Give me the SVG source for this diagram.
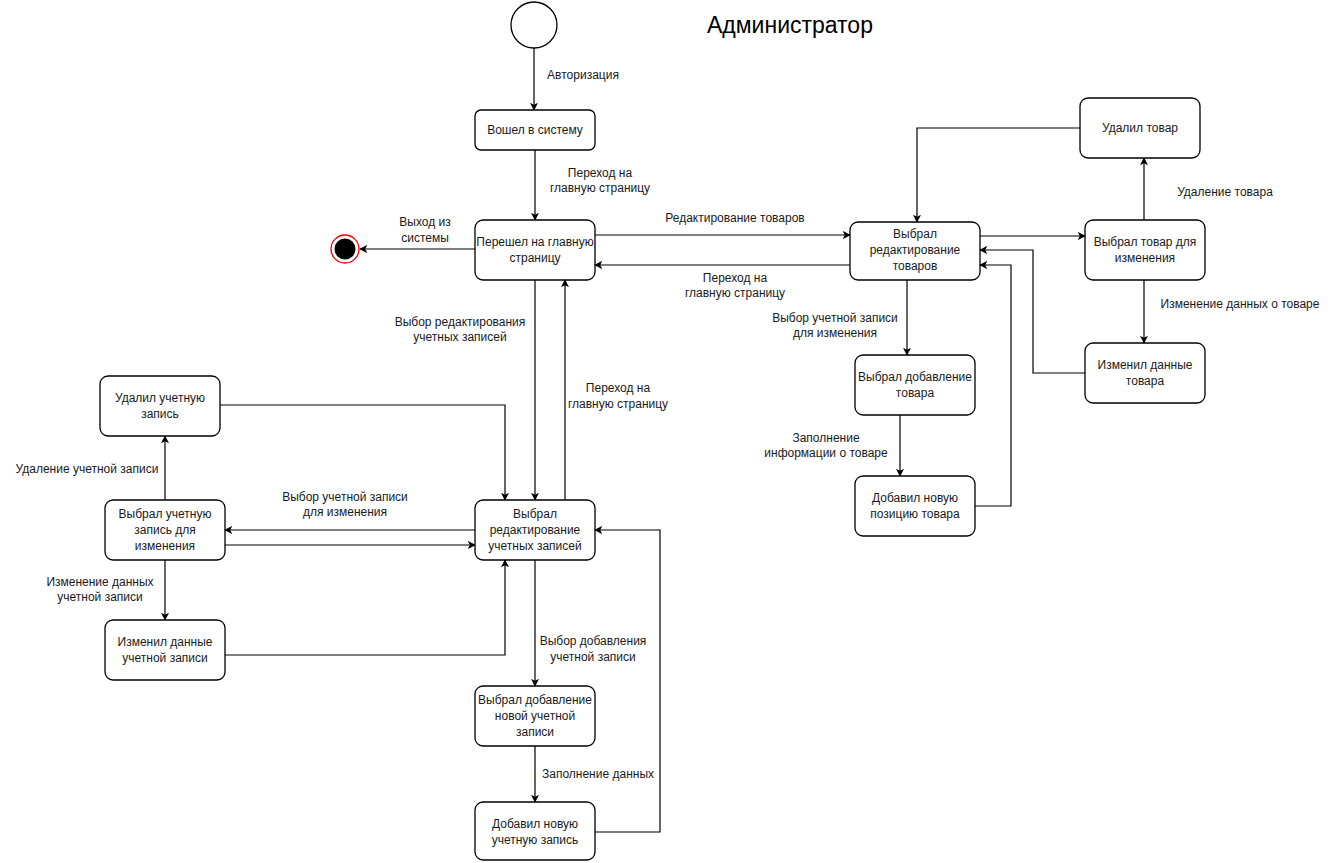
<svg xmlns="http://www.w3.org/2000/svg" width="1330" height="863" viewBox="0 0 1330 863">
<style>
.n{fill:#fff;stroke:#000;stroke-width:1.3}
.t{font-family:"Liberation Sans",Arial,sans-serif;font-size:12px;fill:#1a1a1a;text-anchor:middle}
.l{font-family:"Liberation Sans",Arial,sans-serif;font-size:12px;fill:#1a1a1a;text-anchor:middle}
.c{fill:none;stroke:#000;stroke-width:1.2;marker-end:url(#a)}
</style>
<defs>
<marker id="a" viewBox="0 0 10 10" refX="9" refY="5" markerWidth="8" markerHeight="8" markerUnits="userSpaceOnUse" orient="auto">
<path d="M0,0 L10,5 L0,10 L2.5,5 Z" fill="#000"/>
</marker>
</defs>
<rect width="1330" height="863" fill="#fff"/>
<text x="790" y="33" font-family="'Liberation Sans',Arial,sans-serif" font-size="23" text-anchor="middle" fill="#000">Администратор</text>

<g id="start"><circle cx="534" cy="25" r="23" class="n"/></g>
<g id="end"><circle cx="345" cy="249" r="14" fill="#fff" stroke="#e00" stroke-width="1.3"/><circle cx="345" cy="249" r="10.5" fill="#000"/></g>

<g id="n1"><rect x="475" y="110" width="120" height="40" rx="6" class="n"/><text class="t" x="535" y="134">Вошел в систему</text></g>
<g id="n2"><rect x="475" y="220" width="120" height="60" rx="8" class="n"/><text class="t" x="535" y="246">Перешел на главную</text><text class="t" x="535" y="262">страницу</text></g>
<g id="n3"><rect x="850" y="222" width="130" height="58" rx="8" class="n"/><text class="t" x="915" y="238">Выбрал</text><text class="t" x="915" y="254">редактирование</text><text class="t" x="915" y="270">товаров</text></g>
<g id="n4"><rect x="1080" y="98" width="120" height="60" rx="8" class="n"/><text class="t" x="1140" y="132">Удалил товар</text></g>
<g id="n5"><rect x="1085" y="220" width="120" height="60" rx="8" class="n"/><text class="t" x="1145" y="246">Выбрал товар для</text><text class="t" x="1145" y="262">изменения</text></g>
<g id="n6"><rect x="1085" y="343" width="120" height="60" rx="8" class="n"/><text class="t" x="1145" y="369">Изменил данные</text><text class="t" x="1145" y="385">товара</text></g>
<g id="n7"><rect x="855" y="355" width="120" height="60" rx="8" class="n"/><text class="t" x="915" y="381">Выбрал добавление</text><text class="t" x="915" y="397">товара</text></g>
<g id="n8"><rect x="855" y="476" width="120" height="60" rx="8" class="n"/><text class="t" x="915" y="502">Добавил новую</text><text class="t" x="915" y="518">позицию товара</text></g>
<g id="n9"><rect x="475" y="500" width="120" height="60" rx="8" class="n"/><text class="t" x="535" y="518">Выбрал</text><text class="t" x="535" y="534">редактирование</text><text class="t" x="535" y="550">учетных записей</text></g>
<g id="n10"><rect x="100" y="376" width="120" height="60" rx="8" class="n"/><text class="t" x="160" y="402">Удалил учетную</text><text class="t" x="160" y="418">запись</text></g>
<g id="n11"><rect x="105" y="500" width="120" height="60" rx="8" class="n"/><text class="t" x="165" y="518">Выбрал учетную</text><text class="t" x="165" y="534">запись для</text><text class="t" x="165" y="550">изменения</text></g>
<g id="n12"><rect x="105" y="620" width="120" height="60" rx="8" class="n"/><text class="t" x="165" y="646">Изменил данные</text><text class="t" x="165" y="662">учетной записи</text></g>
<g id="n13"><rect x="475" y="686" width="120" height="60" rx="8" class="n"/><text class="t" x="535" y="704">Выбрал добавление</text><text class="t" x="535" y="720">новой учетной</text><text class="t" x="535" y="736">записи</text></g>
<g id="n14"><rect x="475" y="802" width="120" height="58" rx="8" class="n"/><text class="t" x="535" y="828">Добавил новую</text><text class="t" x="535" y="844">учетную запись</text></g>

<g id="connectors">
<path class="c" d="M534,48 L534,110"/>
<path class="c" d="M535,150 L535,220"/>
<path class="c" d="M475,249 L360,249"/>
<path class="c" d="M595,235 L850,235"/>
<path class="c" d="M850,265 L595,265"/>
<path class="c" d="M1080,128 L917,128 L917,222"/>
<path class="c" d="M980,236 L1085,236"/>
<path class="c" d="M1144,220 L1144,158"/>
<path class="c" d="M1144,280 L1144,343"/>
<path class="c" d="M1085,373 L1033,373 L1033,250 L980,250"/>
<path class="c" d="M907,280 L907,355"/>
<path class="c" d="M900,415 L900,476"/>
<path class="c" d="M975,506 L1011,506 L1011,265 L980,265"/>
<path class="c" d="M535,280 L535,500"/>
<path class="c" d="M565,500 L565,280"/>
<path class="c" d="M220,405 L505,405 L505,500"/>
<path class="c" d="M475,530 L225,530"/>
<path class="c" d="M225,545 L475,545"/>
<path class="c" d="M165,500 L165,436"/>
<path class="c" d="M165,560 L165,620"/>
<path class="c" d="M225,655 L505,655 L505,560"/>
<path class="c" d="M535,560 L535,686"/>
<path class="c" d="M535,746 L535,802"/>
<path class="c" d="M595,832 L660,832 L660,530 L595,530"/>
</g>

<g id="labels">
<text class="l" x="583" y="79">Авторизация</text>
<text class="l" x="600" y="177">Переход на</text><text class="l" x="600" y="192">главную страницу</text>
<text class="l" x="425" y="226">Выход из</text><text class="l" x="425" y="242">системы</text>
<text class="l" x="735" y="222">Редактирование товаров</text>
<text class="l" x="735" y="282">Переход на</text><text class="l" x="735" y="297">главную страницу</text>
<text class="l" x="1225" y="196">Удаление товара</text>
<text class="l" x="1240" y="308">Изменение данных о товаре</text>
<text class="l" x="835" y="322">Выбор учетной записи</text><text class="l" x="835" y="337">для изменения</text>
<text class="l" x="826" y="442">Заполнение</text><text class="l" x="826" y="457">информации о товаре</text>
<text class="l" x="460" y="326">Выбор редактирования</text><text class="l" x="460" y="341">учетных записей</text>
<text class="l" x="618" y="392">Переход на</text><text class="l" x="618" y="408">главную страницу</text>
<text class="l" x="87" y="473">Удаление учетной записи</text>
<text class="l" x="345" y="501">Выбор учетной записи</text><text class="l" x="345" y="516">для изменения</text>
<text class="l" x="100" y="586">Изменение данных</text><text class="l" x="100" y="601">учетной записи</text>
<text class="l" x="593" y="645">Выбор добавления</text><text class="l" x="593" y="661">учетной записи</text>
<text class="l" x="598" y="778">Заполнение данных</text>
</g>
</svg>
